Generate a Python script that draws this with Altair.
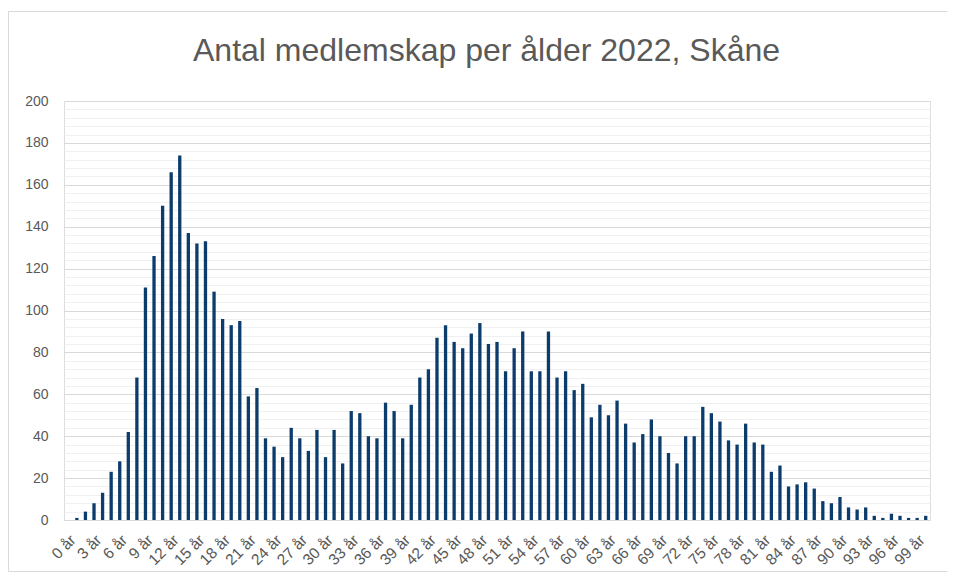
import altair as alt
import pandas as pd

ages = list(range(0, 101))
values = [0, 1, 4, 8, 13, 23, 28, 42, 68, 111,
          126, 150, 166, 174, 137, 132, 133, 109, 96, 93,
          95, 59, 63, 39, 35, 30, 44, 39, 33, 43,
          30, 43, 27, 52, 51, 40, 39, 56, 52, 39,
          55, 68, 72, 87, 93, 85, 82, 89, 94, 84,
          85, 71, 82, 90, 71, 71, 90, 68, 71, 62,
          65, 49, 55, 50, 57, 46, 37, 41, 48, 40,
          32, 27, 40, 40, 54, 51, 47, 38, 36, 46,
          37, 36, 23, 26, 16, 17, 18, 15, 9, 8,
          11, 6, 5, 6, 2, 1, 3, 2, 1, 1,
          2]
labels = [f"{a} år" for a in ages]
tick_labels = [f"{a} år" for a in range(0, 100, 3)]
y_ticks = list(range(0, 201, 4))
title_text = "Antal medlemskap per ålder 2022, Skåne"

df = pd.DataFrame({"age": labels, "count": values})

FONT = "Liberation Sans"
TXT = "#595959"
BORDER = "#d9d9d9"

bars = alt.Chart(df).mark_bar(size=3.3, color="#0b3c6b").encode(
    x=alt.X("age:N", sort=labels,
            scale=alt.Scale(paddingInner=0, paddingOuter=0),
            axis=alt.Axis(values=tick_labels, labelAngle=-45, ticks=False,
                          domain=False, title=None, labelFont=FONT,
                          labelFontSize=15.5, labelColor=TXT, labelPadding=12,
                          grid=False)),
    y=alt.Y("count:Q", scale=alt.Scale(domain=[0, 200], nice=False),
            axis=alt.Axis(values=y_ticks, ticks=False, domain=False, title=None,
                          labelFont=FONT, labelFontSize=14, labelColor=TXT,
                          labelPadding=16,
                          labelExpr="datum.value % 20 === 0 ? datum.label : ''",
                          grid=True, gridWidth=1,
                          gridColor={"condition": {"test": "datum.value % 20 === 0",
                                                   "value": "#d9d9d9"},
                                     "value": "#f0f0f0"})),
)

one = pd.DataFrame({"k": [0]})
border_left = alt.Chart(one).mark_rule(color=BORDER).encode(
    x=alt.value(-55.5), y=alt.value(-89.5), y2=alt.value(470.5))
border_top = alt.Chart(one).mark_rule(color=BORDER).encode(
    x=alt.value(-55.5), x2=alt.value(883), y=alt.value(-89.5))
border_bottom = alt.Chart(one).mark_rule(color=BORDER).encode(
    x=alt.value(-55.5), x2=alt.value(883), y=alt.value(470.5))

title = alt.Chart(one).mark_text(
    text=title_text, font=FONT, fontSize=32, color=TXT,
    align="center", baseline="alphabetic"
).encode(x=alt.value(422.5), y=alt.value(-40))

chart = alt.layer(border_left, border_top, border_bottom, title, bars).properties(
    width=866, height=419,
    autosize=alt.AutoSizeParams(type="none"),
    padding={"left": 56, "top": 93, "right": 17, "bottom": 52},
).configure_view(stroke=None).configure(background="white")

chart.save("out.html", embed_options={"renderer": "svg", "actions": False})
